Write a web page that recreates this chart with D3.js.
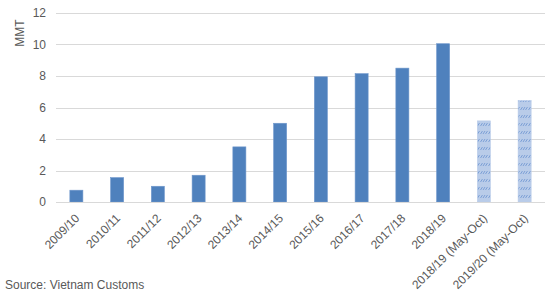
<!DOCTYPE html>
<html>
<head>
<meta charset="utf-8">
<script src="https://cdn.jsdelivr.net/npm/d3@7"></script>
<style>
  body { margin: 0; background: #fff; }
  svg { font-family: "Liberation Sans", Arial, sans-serif; }
</style>
</head>
<body>
<div id="vis"></div>
<script>
// MMT by marketing year; last two are partial (May-Oct) periods
var categories = ["2009/10", "2010/11", "2011/12", "2012/13", "2013/14", "2014/15",
                  "2015/16", "2016/17", "2017/18", "2018/19",
                  "2018/19 (May-Oct)", "2019/20 (May-Oct)"];
var values = [0.75, 1.55, 1.0, 1.7, 3.5, 5.0, 7.95, 8.15, 8.5, 10.05, 5.15, 6.45];
var partial = [false, false, false, false, false, false, false, false, false, false, true, true];
var yTicks = [0, 2, 4, 6, 8, 10, 12];

var w = 554;
var h = 296;
var plotLeft = 56, plotRight = 545, plotTop = 13, plotBottom = 202;

var svg = d3.select("#vis")
  .append("svg")
  .attr("width", w)
  .attr("height", h);

// hatch for the partial-year bars
var defs = svg.append("defs");
var pat = defs.append("pattern")
  .attr("id", "hatch")
  .attr("patternUnits", "userSpaceOnUse")
  .attr("width", 8)
  .attr("height", 8);
pat.append("rect").attr("width", 8).attr("height", 8).attr("fill", "#b9cce9");
pat.append("path")
  .attr("d", "M0.5,6 L2.5,3 M3,6 L5,3 M5.5,6 L7.5,3")
  .attr("stroke", "#7b9fd6")
  .attr("stroke-width", 1);

var x = d3.scaleBand()
  .domain(categories)
  .range([plotLeft, plotRight])
  .paddingInner(0.68)
  .paddingOuter(0.34);

var y = d3.scaleLinear()
  .domain([0, 12])
  .range([plotBottom, plotTop]);

// gridlines
svg.append("g")
  .selectAll("line")
  .data(yTicks)
  .enter()
  .append("line")
  .attr("x1", plotLeft)
  .attr("x2", plotRight)
  .attr("y1", function(d) { return Math.round(y(d)) + 0.5; })
  .attr("y2", function(d) { return Math.round(y(d)) + 0.5; })
  .attr("stroke", "#d9d9d9")
  .attr("stroke-width", 1);

// y tick labels
svg.append("g")
  .selectAll("text")
  .data(yTicks)
  .enter()
  .append("text")
  .attr("x", 46)
  .attr("y", function(d) { return y(d); })
  .attr("dy", "0.35em")
  .attr("text-anchor", "end")
  .attr("font-size", 12)
  .attr("fill", "#595959")
  .text(function(d) { return d; });

// axis title
svg.append("text")
  .attr("transform", "translate(24,33) rotate(-90)")
  .attr("text-anchor", "middle")
  .attr("font-size", 12)
  .attr("fill", "#595959")
  .text("MMT");

// bars
svg.append("g")
  .selectAll("rect")
  .data(values)
  .enter()
  .append("rect")
  .attr("x", function(d, i) { return x(categories[i]); })
  .attr("y", function(d) { return y(d); })
  .attr("width", x.bandwidth())
  .attr("height", function(d) { return y(0) - y(d); })
  .attr("fill", function(d, i) { return partial[i] ? "url(#hatch)" : "#4f81bd"; })
  .attr("stroke", function(d, i) { return partial[i] ? "#b9cce9" : "#6f97cc"; })
  .attr("stroke-width", 0.6);

// baseline
svg.append("line")
  .attr("x1", plotLeft)
  .attr("x2", plotRight)
  .attr("y1", Math.round(y(0)) + 0.5)
  .attr("y2", Math.round(y(0)) + 0.5)
  .attr("stroke", "#d9d9d9");

// rotated category labels
svg.append("g")
  .selectAll("text")
  .data(categories)
  .enter()
  .append("text")
  .attr("transform", function(d) {
    return "translate(" + (x(d) + x.bandwidth() / 2 - 2) + "," + 213 + ") rotate(-45)";
  })
  .attr("text-anchor", "end")
  .attr("dy", "0.7em")
  .attr("font-size", 12)
  .attr("fill", "#595959")
  .text(function(d) { return d; });

// source note
svg.append("text")
  .attr("x", 5)
  .attr("y", 289)
  .attr("font-size", 12)
  .attr("fill", "#595959")
  .text("Source: Vietnam Customs");
</script>
</body>
</html>
